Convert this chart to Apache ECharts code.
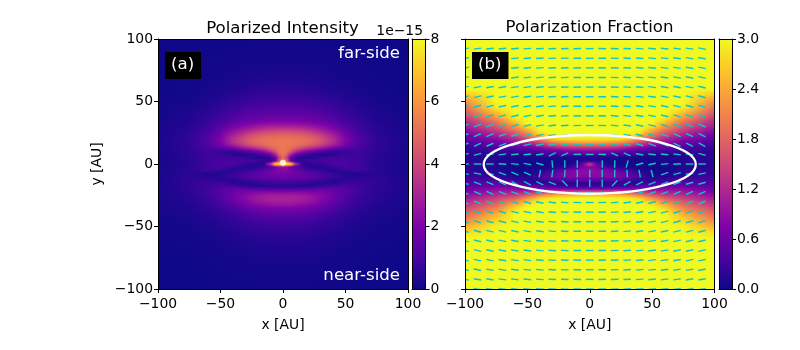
<!DOCTYPE html>
<html>
<head>
<meta charset="utf-8">
<title>Polarized Intensity / Polarization Fraction</title>
<style>
  html, body { margin: 0; padding: 0; background: #fff; }
  #chart { width: 800px; height: 350px; }
</style>
<script src="https://cdn.jsdelivr.net/npm/echarts@6/dist/echarts.min.js"></script>
</head>
<body>
<div id="chart"></div>
<script>
// plasma colormap, evenly spaced
var plasma = ["#0d0887", "#4b03a1", "#7e03a8", "#a82296", "#cc4778", "#e66c5c", "#f89540", "#fdc527", "#f0f921"];

// distance from x = 0 of the samples in each image row (the picture is mirrored about x = 0)
var sampleX = [0, 3, 6, 10, 15, 20, 25, 30, 40, 50, 60, 75, 100];

// y of each image row, top to bottom
var rowY = [100, 95, 90, 85, 80, 75, 70, 65, 60, 55, 50, 45,
  40, 37.5, 35, 32.5, 30, 27.5, 25, 22.5, 20, 17.5, 15, 12.5, 10, 7.5, 5, 2.5, 0,
  -2.5, -5, -7.5, -10, -12.5, -15, -17.5, -20, -22.5, -25, -27.5, -30, -32.5, -35, -37.5, -40,
  -45, -50, -55, -60, -65, -70, -75, -80, -85, -90, -95, -100];

// panel (a), polarized intensity in units of 1e-15
var intensityRows = [
  [.06, .06, .06, .06, .06, .06, .06, .06, .05, .05, .04, .03, .02],
  [.08, .08, .08, .08, .08, .08, .08, .07, .07, .06, .05, .03, .02],
  [.1, .1, .1, .1, .1, .1, .09, .09, .08, .07, .06, .04, .02],
  [.13, .13, .13, .13, .13, .12, .12, .11, .1, .08, .07, .04, .02],
  [.17, .17, .17, .17, .17, .16, .15, .14, .12, .1, .08, .05, .03],
  [.22, .22, .22, .22, .21, .2, .19, .18, .15, .12, .09, .06, .03],
  [.28, .28, .28, .28, .27, .26, .24, .22, .18, .14, .11, .07, .03],
  [.38, .38, .38, .38, .36, .34, .32, .29, .23, .18, .14, .08, .04],
  [.5, .5, .5, .5, .48, .46, .42, .38, .3, .23, .17, .1, .05],
  [.65, .65, .65, .64, .62, .6, .56, .52, .41, .3, .22, .12, .06],
  [.85, .85, .85, .84, .82, .8, .75, .7, .58, .42, .3, .16, .07],
  [1.1, 1.1, 1.1, 1.08, 1.05, 1, .97, .9, .75, .56, .4, .22, .09],
  [1.4, 1.4, 1.4, 1.38, 1.35, 1.3, 1.25, 1.18, .98, .72, .5, .28, .11],
  [1.6, 1.6, 1.6, 1.58, 1.55, 1.5, 1.42, 1.33, 1.1, .8, .56, .3, .12],
  [1.9, 1.9, 1.9, 1.87, 1.82, 1.75, 1.65, 1.52, 1.25, .9, .62, .33, .13],
  [2.3, 2.3, 2.3, 2.28, 2.22, 2.12, 2, 1.85, 1.5, 1.03, .7, .36, .14],
  [3, 3, 3, 2.95, 2.85, 2.7, 2.5, 2.3, 1.85, 1.2, .78, .4, .15],
  [3.7, 3.7, 3.7, 3.62, 3.5, 3.3, 3.05, 2.8, 2.2, 1.4, .88, .44, .16],
  [4.4, 4.4, 4.35, 4.3, 4.2, 4, 3.7, 3.35, 2.6, 1.6, .98, .48, .17],
  [4.9, 4.9, 4.85, 4.8, 4.7, 4.55, 4.25, 3.9, 3, 1.8, 1.08, .52, .18],
  [5.2, 5.2, 5.15, 5.1, 5.05, 4.9, 4.6, 4.25, 3.3, 2, 1.15, .55, .19],
  [5.3, 5.3, 5.25, 5.2, 5.1, 4.95, 4.65, 4.3, 3.3, 2, 1.1, .54, .19],
  [5.3, 5.3, 5.2, 5.1, 4.85, 4.55, 4.2, 3.8, 2.8, 1.7, 1.05, .54, .18],
  [5.3, 5.25, 5, 4.5, 3.9, 3.4, 3, 2.6, 1.7, 1.2, .95, .55, .18],
  [5.3, 5.1, 4.4, 3.3, 2.4, 1.9, 1.5, 1.1, .6, .7, .8, .52, .17],
  [5.2, 4.6, 3, 1.7, 1, .75, .5, .35, .45, .75, .8, .5, .17],
  [5, 3.8, 1.6, .7, .4, .35, .5, .7, .85, .9, .8, .45, .16],
  [5.5, 4.5, 1.5, .4, .6, .8, .9, .95, 1, .95, .8, .42, .16],
  [8, 8, 7.8, 3.5, .6, .4, .55, .7, 1, 1, .8, .4, .16],
  [2.5, 2.2, 1.5, 1, .7, .55, .4, .35, .7, .95, .85, .42, .16],
  [2.2, 2.1, 1.9, 1.6, 1.3, 1, .8, .65, .35, .6, .85, .45, .17],
  [1.9, 1.9, 1.8, 1.7, 1.5, 1.3, 1.2, 1, .65, .35, .35, .45, .18],
  [1.7, 1.7, 1.65, 1.6, 1.5, 1.4, 1.25, 1.05, .75, .42, .42, .5, .19],
  [1.3, 1.3, 1.3, 1.25, 1.2, 1.1, 1, .85, .5, .45, .6, .55, .2],
  [.8, .8, .8, .75, .7, .62, .5, .4, .4, .7, .75, .55, .2],
  [.45, .45, .45, .45, .4, .4, .42, .6, .9, .95, .78, .55, .21],
  [1.1, 1.1, 1.1, 1.1, 1.15, 1.2, 1.3, 1.45, 1.4, 1.15, .82, .52, .2],
  [2.2, 2.2, 2.2, 2.2, 2.15, 2.1, 2, 1.9, 1.6, 1.15, .8, .48, .2],
  [2.8, 2.8, 2.8, 2.75, 2.7, 2.55, 2.4, 2.15, 1.65, 1.15, .78, .45, .2],
  [3, 3, 3, 2.95, 2.85, 2.7, 2.5, 2.2, 1.6, 1.1, .72, .42, .19],
  [2.85, 2.85, 2.85, 2.8, 2.7, 2.55, 2.35, 2.05, 1.5, 1, .66, .38, .18],
  [2.5, 2.5, 2.5, 2.45, 2.35, 2.2, 2, 1.75, 1.3, .9, .6, .35, .17],
  [2.05, 2.05, 2.05, 2, 1.95, 1.85, 1.7, 1.5, 1.1, .78, .54, .31, .15],
  [1.7, 1.7, 1.7, 1.68, 1.6, 1.5, 1.4, 1.25, .95, .68, .48, .28, .14],
  [1.4, 1.4, 1.4, 1.38, 1.32, 1.25, 1.15, 1, .8, .58, .42, .25, .13],
  [1, 1, 1, .98, .95, .9, .84, .75, .6, .45, .33, .2, .1],
  [.75, .75, .75, .74, .72, .68, .63, .57, .46, .35, .26, .16, .08],
  [.58, .58, .58, .57, .55, .52, .49, .44, .36, .27, .2, .13, .07],
  [.45, .45, .45, .44, .43, .41, .38, .35, .28, .22, .16, .1, .06],
  [.36, .36, .36, .35, .34, .32, .3, .28, .22, .17, .13, .08, .05],
  [.28, .28, .28, .28, .27, .26, .24, .22, .18, .14, .1, .07, .04],
  [.22, .22, .22, .22, .21, .2, .19, .17, .14, .11, .08, .05, .03],
  [.17, .17, .17, .17, .16, .16, .15, .13, .11, .09, .07, .04, .03],
  [.13, .13, .13, .13, .13, .12, .12, .1, .09, .07, .05, .04, .02],
  [.1, .1, .1, .1, .1, .1, .09, .08, .07, .06, .05, .03, .02],
  [.08, .08, .08, .08, .08, .08, .07, .07, .06, .05, .04, .03, .02],
  [.06, .06, .06, .06, .06, .06, .06, .05, .05, .04, .03, .02, .02]
];

// panel (b), polarization fraction, the colour scale stops at 3
var fractionRows = [
  [3, 3, 3, 3, 3, 3, 3, 3, 3, 3, 3, 3, 3],
  [3, 3, 3, 3, 3, 3, 3, 3, 3, 3, 3, 3, 3],
  [3, 3, 3, 3, 3, 3, 3, 3, 3, 3, 3, 3, 3],
  [3, 3, 3, 3, 3, 3, 3, 3, 3, 3, 3, 3, 3],
  [3, 3, 3, 3, 3, 3, 3, 3, 3, 3, 3, 3, 3],
  [3, 3, 3, 3, 3, 3, 3, 3, 3, 3, 3, 3, 3],
  [3, 3, 3, 3, 3, 3, 3, 3, 3, 3, 3, 3, 3],
  [3, 3, 3, 3, 3, 3, 3, 3, 3, 3, 3, 3, 3],
  [3, 3, 3, 3, 3, 3, 3, 3, 3, 3, 3, 3, 3],
  [3, 3, 3, 3, 3, 3, 3, 3, 3, 3, 3, 3, 2.6],
  [3, 3, 3, 3, 3, 3, 3, 3, 3, 3, 3, 3, 2.2],
  [3, 3, 3, 3, 3, 3, 3, 3, 3, 3, 3, 2.9, 1.9],
  [3, 3, 3, 3, 3, 3, 3, 3, 3, 3, 3, 2.5, 1.6],
  [3, 3, 3, 3, 3, 3, 3, 3, 3, 3, 2.95, 2.3, 1.45],
  [3, 3, 3, 3, 3, 3, 3, 3, 3, 3, 2.75, 2.05, 1.3],
  [3, 3, 3, 3, 3, 3, 3, 3, 3, 3, 2.5, 1.85, 1.15],
  [3, 3, 3, 3, 3, 3, 3, 3, 3, 2.8, 2.25, 1.65, 1.05],
  [3, 3, 3, 3, 3, 3, 3, 3, 3, 2.5, 2, 1.45, .9],
  [3, 3, 3, 3, 3, 3, 3, 3, 2.85, 2.2, 1.7, 1.25, .75],
  [3, 3, 3, 3, 3, 3, 3, 2.95, 2.5, 1.9, 1.45, 1.05, .6],
  [2.85, 2.85, 2.85, 2.85, 2.85, 2.8, 2.8, 2.6, 2.1, 1.55, 1.2, .85, .5],
  [2.4, 2.4, 2.4, 2.4, 2.35, 2.3, 2.2, 2.1, 1.6, 1.2, .95, .65, .4],
  [1.8, 1.8, 1.8, 1.8, 1.75, 1.7, 1.6, 1.5, 1.15, .85, .7, .5, .3],
  [1.2, 1.2, 1.2, 1.2, 1.18, 1.15, 1.05, .95, .7, .55, .45, .35, .25],
  [.75, .75, .75, .7, .7, .65, .6, .55, .4, .3, .28, .25, .2],
  [.4, .4, .38, .35, .35, .3, .3, .3, .2, .15, .16, .18, .18],
  [.12, .12, .12, .12, .12, .1, .1, .1, .08, .08, .1, .14, .18],
  [.2, .18, .15, .1, .08, .08, .08, .08, .06, .06, .08, .14, .18],
  [1.5, 1, .55, .25, .12, .1, .08, .08, .06, .05, .07, .14, .2],
  [.8, .78, .7, .5, .3, .2, .15, .12, .08, .05, .06, .14, .2],
  [.85, .85, .85, .8, .7, .6, .45, .3, .12, .05, .06, .15, .22],
  [.85, .85, .85, .85, .8, .75, .65, .5, .25, .08, .08, .18, .25],
  [.8, .8, .8, .8, .8, .75, .7, .6, .35, .15, .12, .24, .3],
  [.55, .55, .55, .55, .5, .5, .45, .4, .25, .2, .25, .35, .35],
  [.2, .2, .2, .2, .2, .2, .2, .2, .15, .25, .4, .5, .42],
  [.25, .25, .25, .25, .25, .3, .3, .35, .5, .6, .6, .65, .5],
  [.75, .75, .75, .75, .75, .8, .8, .8, .8, .85, .85, .85, .6],
  [1.7, 1.7, 1.7, 1.7, 1.7, 1.7, 1.65, 1.6, 1.4, 1.2, 1.1, 1.05, .72],
  [2.6, 2.6, 2.6, 2.55, 2.5, 2.5, 2.45, 2.4, 2.1, 1.7, 1.4, 1.25, .88],
  [3, 3, 3, 3, 3, 2.95, 2.95, 2.9, 2.7, 2.2, 1.75, 1.45, 1.05],
  [3, 3, 3, 3, 3, 3, 3, 3, 2.95, 2.6, 2.1, 1.65, 1.2],
  [3, 3, 3, 3, 3, 3, 3, 3, 3, 2.85, 2.45, 1.85, 1.35],
  [3, 3, 3, 3, 3, 3, 3, 3, 3, 3, 2.7, 2.05, 1.5],
  [3, 3, 3, 3, 3, 3, 3, 3, 3, 3, 2.9, 2.25, 1.65],
  [3, 3, 3, 3, 3, 3, 3, 3, 3, 3, 3, 2.45, 1.8],
  [3, 3, 3, 3, 3, 3, 3, 3, 3, 3, 3, 2.75, 2.1],
  [3, 3, 3, 3, 3, 3, 3, 3, 3, 3, 3, 2.95, 2.45],
  [3, 3, 3, 3, 3, 3, 3, 3, 3, 3, 3, 3, 2.8],
  [3, 3, 3, 3, 3, 3, 3, 3, 3, 3, 3, 3, 3],
  [3, 3, 3, 3, 3, 3, 3, 3, 3, 3, 3, 3, 3],
  [3, 3, 3, 3, 3, 3, 3, 3, 3, 3, 3, 3, 3],
  [3, 3, 3, 3, 3, 3, 3, 3, 3, 3, 3, 3, 3],
  [3, 3, 3, 3, 3, 3, 3, 3, 3, 3, 3, 3, 3],
  [3, 3, 3, 3, 3, 3, 3, 3, 3, 3, 3, 3, 3],
  [3, 3, 3, 3, 3, 3, 3, 3, 3, 3, 3, 3, 3],
  [3, 3, 3, 3, 3, 3, 3, 3, 3, 3, 3, 3, 3],
  [3, 3, 3, 3, 3, 3, 3, 3, 3, 3, 3, 3, 3]
];

// polarization vectors of panel (b): angle in degrees per row (top to bottom) and column
var vectorX = [-100, -90, -80, -70, -60, -50, -40, -30, -20, -10, 0, 10, 20, 30, 40, 50, 60, 70, 80, 90];
var vectorY = [92.3, 84.6, 76.9, 69.2, 61.5, 53.8, 46.2, 38.5, 30.8, 23.1, 15.4, 7.7, 0,
  -7.7, -15.4, -23.1, -30.8, -38.5, -46.2, -53.8, -61.5, -69.2, -76.9, -84.6, -92.3, -100];
var vectorAngles = [
  [7, 7, 6, 6, 5, 4, 3, 2, 1, 1, 0, -1, -2, -3, -4, -5, -6, -7, -8, -11],
  [8, 8, 7, 6, 5, 4, 3, 2, 2, 1, 0, -1, -2, -3, -4, -5, -6, -8, -9, -11],
  [9, 9, 8, 7, 6, 5, 4, 3, 2, 1, 0, -1, -2, -3, -5, -6, -7, -8, -10, -12],
  [10, 10, 9, 8, 7, 6, 5, 3, 2, 1, 0, -1, -2, -4, -5, -6, -8, -9, -11, -13],
  [12, 11, 10, 9, 8, 7, 5, 4, 2, 1, 0, -1, -3, -4, -6, -7, -9, -10, -12, -14],
  [14, 13, 12, 10, 9, 8, 6, 4, 3, 1, 0, -1, -3, -5, -6, -8, -10, -12, -14, -16],
  [16, 15, 14, 12, 11, 9, 7, 5, 3, 1, 0, -2, -4, -6, -8, -10, -12, -14, -16, -18],
  [19, 18, 16, 15, 13, 11, 9, 6, 4, 2, 0, -2, -5, -7, -10, -12, -14, -16, -18, -20],
  [22, 21, 19, 17, 15, 13, 10, 7, 4, 2, 0, -2, -5, -8, -11, -14, -17, -19, -21, -23],
  [25, 24, 22, 20, 17, 14, 11, 8, 4, 2, 0, -2, -5, -9, -13, -17, -20, -22, -24, -26],
  [28, 26, 23, 20, 17, 14, 11, 7, 4, 2, 0, -2, -5, -10, -15, -20, -22, -25, -27, -28],
  [16, 15, 10, 8, 5, 5, 10, 26, 25, 3, 0, -3, -25, -25, -10, -5, -5, -8, -10, -15],
  [0, 0, 0, -3, -5, -10, -15, 95, 90, 90, null, 90, 88, 75, 15, 12, 5, 3, 0, 0],
  [-12, -12, -15, -18, -22, -25, 80, 82, 85, 90, 90, 90, 90, -85, -80, -75, 20, 15, 10, 12],
  [-18, -20, -22, -26, -28, -28, -25, -20, -45, 90, 90, 90, 45, 30, 25, 22, 22, 20, 15, 15],
  [-25, -25, -25, -22, -20, -18, -15, -12, -8, -3, 0, 3, 8, 12, 15, 18, 20, 22, 25, 25],
  [-23, -22, -22, -20, -17, -15, -11, -8, -5, -2, 0, 2, 5, 8, 11, 15, 17, 20, 22, 23],
  [-20, -20, -19, -17, -15, -12, -9, -6, -4, -2, 0, 2, 4, 6, 9, 12, 15, 17, 19, 20],
  [-18, -18, -16, -15, -13, -10, -8, -5, -3, -1, 0, 1, 3, 5, 8, 10, 13, 15, 16, 18],
  [-16, -15, -14, -13, -11, -9, -7, -5, -3, -1, 0, 1, 3, 5, 7, 9, 11, 13, 14, 15],
  [-15, -14, -13, -12, -10, -8, -6, -4, -3, -1, 0, 1, 3, 4, 6, 8, 10, 12, 13, 14],
  [-14, -13, -12, -11, -9, -7, -6, -4, -2, -1, 0, 1, 2, 4, 6, 7, 9, 11, 12, 13],
  [-13, -12, -11, -10, -8, -7, -5, -4, -2, -1, 0, 1, 2, 4, 5, 7, 8, 10, 11, 12],
  [-12, -11, -10, -9, -8, -6, -5, -3, -2, -1, 0, 1, 2, 3, 5, 6, 8, 9, 10, 11],
  [-11, -10, -9, -8, -7, -6, -4, -3, -2, -1, 0, 1, 2, 3, 4, 6, 7, 8, 9, 10],
  [-10, -10, -9, -8, -7, -5, -4, -3, -2, -1, 0, 1, 2, 3, 4, 5, 7, 8, 9, 10]
];

var FONT = "DejaVu Sans";

// mirrored gradient for one image line
function rowGradient(values, maxValue) {
  var stops = [];
  for (var i = sampleX.length - 1; i >= 0; i--) {
    stops.push({ offset: (100 - sampleX[i]) / 200, color: echarts.color.lerp(Math.min(values[i] / maxValue, 1), plasma) });
  }
  for (var j = 1; j < sampleX.length; j++) {
    stops.push({ offset: (100 + sampleX[j]) / 200, color: echarts.color.lerp(Math.min(values[j] / maxValue, 1), plasma) });
  }
  return new echarts.graphic.LinearGradient(0, 0, 1, 0, stops);
}

// image panel: every item paints the pixel lines down to the next row, shaded like a smooth imshow
function imageSeries(axisIndex, rows, maxValue) {
  var data = [];
  for (var i = 0; i < rows.length; i++) {
    data.push([0, rowY[i]].concat(rows[i]));
  }
  return {
    type: "custom",
    xAxisIndex: axisIndex,
    yAxisIndex: axisIndex,
    silent: true,
    clip: true,
    encode: { x: 0, y: 1 },
    data: data,
    renderItem: function (params, api) {
      var i = params.dataIndex;
      if (i === rowY.length - 1) {
        return null;
      }
      var p0 = api.coord([-100, rowY[i]]);
      var p1 = api.coord([100, rowY[i + 1]]);
      var children = [];
      for (var py = Math.round(p0[1]); py < Math.round(p1[1]); py++) {
        var t = (py + 0.5 - p0[1]) / (p1[1] - p0[1]);
        var values = [];
        for (var k = 0; k < sampleX.length; k++) {
          values.push(api.value(k + 2) * (1 - t) + rows[i + 1][k] * t);
        }
        children.push({
          type: "rect",
          shape: { x: p0[0], y: py, width: p1[0] - p0[0], height: 1 },
          style: { fill: rowGradient(values, maxValue) },
        });
      }
      return { type: "group", children: children };
    },
  };
}

// colorbar drawn between the axis limits
function colorbarSeries(axisIndex, maxValue) {
  var stops = [];
  for (var i = 0; i < plasma.length; i++) {
    stops.push({ offset: i / (plasma.length - 1), color: plasma[i] });
  }
  return {
    type: "custom",
    xAxisIndex: axisIndex,
    yAxisIndex: axisIndex,
    silent: true,
    data: [[0, 0, 1, maxValue]],
    encode: { x: 0, y: 1 },
    renderItem: function (params, api) {
      var p0 = api.coord([api.value(0), api.value(3)]);
      var p1 = api.coord([api.value(2), api.value(1)]);
      return {
        type: "rect",
        shape: { x: p0[0], y: p0[1], width: p1[0] - p0[0], height: p1[1] - p0[1] },
        style: { fill: new echarts.graphic.LinearGradient(0, 1, 0, 0, stops) },
      };
    },
  };
}

var minusLabel = function (v) {
  return String(v).replace("-", "\u2212");
};

function tickLabel(formatter, margin) {
  return { show: true, color: "#000", fontFamily: FONT, fontSize: 13.9, margin: margin, formatter: formatter };
}

// ejes de cada panel: los cuatro lados del recuadro van como ejes
var xAxes = [];
var yAxes = [];
var grids = [];

function addPanel(left, width, opts) {
  var index = grids.length;
  grids.push({ left: left, top: 39, width: width, height: 250 });
  var line = { show: true, onZero: false, lineStyle: { color: "#000", width: 1 } };
  var tick = { show: true, length: 4, inside: false, lineStyle: { color: "#000", width: 1 } };
  xAxes.push({
    gridIndex: index, type: "value", position: "bottom", z: 10,
    min: opts.xMin, max: opts.xMax, interval: opts.xInterval,
    axisLine: line, splitLine: { show: false },
    axisTick: opts.image ? tick : { show: false },
    axisLabel: opts.image ? tickLabel(minusLabel, 8) : { show: false },
    name: opts.image ? "x [AU]" : "", nameLocation: "middle", nameGap: 29,
    nameTextStyle: { color: "#000", fontFamily: FONT, fontSize: 13.9 },
  });
  yAxes.push({
    gridIndex: index, type: "value", position: opts.image ? "left" : "right", z: 10,
    min: opts.yMin, max: opts.yMax, interval: opts.yInterval,
    axisLine: line, splitLine: { show: false }, axisTick: tick,
    axisLabel: opts.yLabel ? tickLabel(opts.yLabel, 5) : { show: false },
    name: opts.yName || "", nameLocation: "middle", nameGap: 54,
    nameTextStyle: { color: "#000", fontFamily: FONT, fontSize: 13.9 },
  });
  return index;
}

// lados de cierre del recuadro
function addBorders(index, opts) {
  var line = { show: true, onZero: false, lineStyle: { color: "#000", width: 1 } };
  xAxes.push({
    gridIndex: index, type: "value", position: "top", z: 10, min: opts.xMin, max: opts.xMax,
    axisLine: line, axisTick: { show: false }, axisLabel: { show: false }, splitLine: { show: false },
  });
  yAxes.push({
    gridIndex: index, type: "value", position: opts.image ? "right" : "left", z: 10, min: opts.yMin, max: opts.yMax,
    axisLine: line, axisTick: { show: false }, axisLabel: { show: false }, splitLine: { show: false },
  });
}

var optsImageA = { image: true, xMin: -100, xMax: 100, xInterval: 50, yMin: -100, yMax: 100, yInterval: 50, yLabel: minusLabel, yName: "y [AU]" };
var optsImageB = { image: true, xMin: -100, xMax: 100, xInterval: 50, yMin: -100, yMax: 100, yInterval: 50 };
var optsBarA = { xMin: 0, xMax: 1, xInterval: 1, yMin: 0, yMax: 8, yInterval: 2, yLabel: function (v) { return String(v); } };
var optsBarB = { xMin: 0, xMax: 1, xInterval: 1, yMin: 0, yMax: 3, yInterval: 0.6, yLabel: function (v) { return v.toFixed(1); } };

var panelA = addPanel(158, 250, optsImageA);
var barA = addPanel(412, 13.5, optsBarA);
var panelB = addPanel(465, 249.5, optsImageB);
var barB = addPanel(719, 13, optsBarB);
// los bordes usan una segunda pareja de ejes, sin series
addBorders(panelA, optsImageA);
addBorders(barA, optsBarA);
addBorders(panelB, optsImageB);
addBorders(barB, optsBarB);

// datos de los vectores
var vectorData = [];
for (var r = 0; r < vectorY.length; r++) {
  for (var c = 0; c < vectorX.length; c++) {
    if (vectorAngles[r][c] !== null) {
      vectorData.push([vectorX[c], vectorY[r], vectorAngles[r][c]]);
    }
  }
}

function textTitle(text, x, y, size, color, align, box) {
  var t = {
    text: text, left: x, top: y, textAlign: align,
    textStyle: { color: color, fontFamily: FONT, fontSize: size, fontWeight: "normal" },
    padding: 0,
  };
  if (box) {
    t.backgroundColor = "#000";
    t.padding = box;
  }
  return t;
}

var option = {
  animation: false,
  backgroundColor: "#fff",
  tooltip: { show: false },
  title: [
    textTitle("Polarized Intensity", 282.5, 20, 16.6, "#000", "center"),
    textTitle("Polarization Fraction", 589.5, 19, 16.6, "#000", "center"),
    textTitle("1e\u221215", 423, 24, 13.9, "#000", "right"),
    textTitle("far-side", 400, 45, 16.6, "#fff", "right"),
    textTitle("near-side", 400, 267, 16.6, "#fff", "right"),
    textTitle("(a)", 165, 52, 16.6, "#fff", "left", [4, 7, 6, 6]),
    textTitle("(b)", 472, 52, 16.6, "#fff", "left", [4, 7, 6, 6]),
  ],
  grid: grids,
  xAxis: xAxes,
  yAxis: yAxes,
  series: [
    imageSeries(panelA, intensityRows, 8),
    colorbarSeries(barA, 8),
    imageSeries(panelB, fractionRows, 3),
    colorbarSeries(barB, 3),
    {
      // estrella central
      type: "scatter",
      xAxisIndex: panelA,
      yAxisIndex: panelA,
      silent: true,
      symbol: "circle",
      symbolSize: 6,
      itemStyle: { color: "#fff" },
      data: [[0, 1]],
    },
    {
      type: "custom",
      xAxisIndex: panelB,
      yAxisIndex: panelB,
      silent: true,
      clip: true,
      encode: { x: 0, y: 1 },
      data: vectorData,
      renderItem: function (params, api) {
        var p = api.coord([api.value(0), api.value(1)]);
        var a = api.value(2) * Math.PI / 180;
        var half = 3.8;
        return {
          type: "line",
          shape: {
            x1: p[0] - half * Math.cos(a), y1: p[1] + half * Math.sin(a),
            x2: p[0] + half * Math.cos(a), y2: p[1] - half * Math.sin(a),
          },
          style: { stroke: "#10c4c8", lineWidth: 1.4, fill: null },
        };
      },
    },
    {
      // elipse blanca del panel (b): centro y semiejes en AU
      type: "custom",
      xAxisIndex: panelB,
      yAxisIndex: panelB,
      silent: true,
      z: 5,
      encode: { x: 0, y: 1 },
      data: [[0, -0.3, 85, 23.5]],
      renderItem: function (params, api) {
        var p = api.coord([api.value(0), api.value(1)]);
        var size = api.size([api.value(2), api.value(3)]);
        return {
          type: "ellipse",
          shape: { cx: p[0], cy: p[1], rx: size[0], ry: size[1] },
          style: { stroke: "#fff", lineWidth: 2.3, fill: null },
        };
      },
    },
  ],
};

var chart = echarts.init(document.getElementById("chart"), null, { renderer: "canvas" });
chart.setOption(option);
</script>
</body>
</html>
